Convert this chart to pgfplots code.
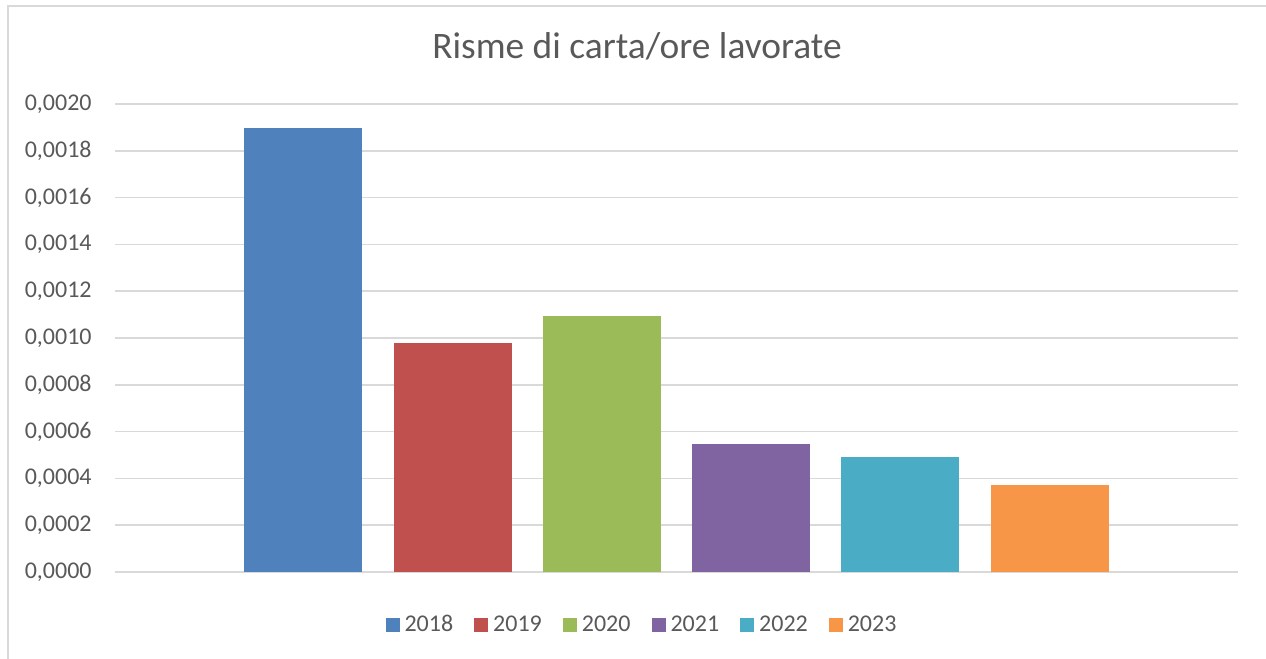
\documentclass[border=0pt]{standalone}
\usepackage{fontspec}
\setmainfont{Carlito}
\usepackage{pgfplots}
\pgfplotsset{compat=1.18}
\definecolor{c2018}{HTML}{4F81BD}
\definecolor{c2019}{HTML}{C0504D}
\definecolor{c2020}{HTML}{9BBB59}
\definecolor{c2021}{HTML}{8064A2}
\definecolor{c2022}{HTML}{4BACC6}
\definecolor{c2023}{HTML}{F79646}
\definecolor{txt}{HTML}{595959}
\definecolor{gridc}{HTML}{D9D9D9}
\begin{document}
\begin{tikzpicture}
\path[use as bounding box] (0,0) rectangle (633pt,329.5pt);
\draw[gridc, line width=1pt] (4pt,0) -- (4pt,326.5pt) -- (633pt,326.5pt);
\node[anchor=base, text=txt, font=\fontsize{18.7}{22}\selectfont, inner sep=0pt] at (318.5pt,300pt) {Risme di carta/ore lavorate};
\begin{axis}[
  at={(57.5pt,43.5pt)}, anchor=south west,
  scale only axis, width=561.5pt, height=234pt,
  xmin=-1.261, xmax=6.261, ymin=0, ymax=0.002,
  xtick=\empty,
  ytick={0,0.0002,0.0004,0.0006,0.0008,0.001,0.0012,0.0014,0.0016,0.0018,0.002},
  scaled y ticks=false,
  /pgf/number format/fixed,
  /pgf/number format/fixed zerofill,
  /pgf/number format/precision=4,
  /pgf/number format/use comma,
  /pgf/number format/assume math mode=true,
  yticklabel style={text=txt, font=\fontsize{12}{14}\selectfont, inner sep=0pt, xshift=-11.5pt},
  axis line style={draw=none},
  tick style={draw=none},
  ymajorgrids, grid style={gridc, line width=0.75pt},
  legend image code/.code={\fill[#1] (0pt,-3.5pt) rectangle (7pt,3.5pt);},
  legend columns=6,
  legend style={at={(0.4684,-0.1134)}, anchor=center, draw=none, fill=none,
    font=\fontsize{12}{14}\selectfont, text=txt,
    nodes={inner sep=0pt},
    /tikz/every odd column/.append style={column sep=2.5pt},
    /tikz/every even column/.append style={column sep=10.5pt}},
]
\addplot[ybar, bar width=0.79, bar shift=0pt, fill=c2018, draw=none] coordinates {(0,0.001897)};
\addlegendentry{2018}
\addplot[ybar, bar width=0.79, bar shift=0pt, fill=c2019, draw=none] coordinates {(1,0.000979)};
\addlegendentry{2019}
\addplot[ybar, bar width=0.79, bar shift=0pt, fill=c2020, draw=none] coordinates {(2,0.001094)};
\addlegendentry{2020}
\addplot[ybar, bar width=0.79, bar shift=0pt, fill=c2021, draw=none] coordinates {(3,0.000547)};
\addlegendentry{2021}
\addplot[ybar, bar width=0.79, bar shift=0pt, fill=c2022, draw=none] coordinates {(4,0.000491)};
\addlegendentry{2022}
\addplot[ybar, bar width=0.79, bar shift=0pt, fill=c2023, draw=none] coordinates {(5,0.000372)};
\addlegendentry{2023}
\end{axis}
\end{tikzpicture}
\end{document}
